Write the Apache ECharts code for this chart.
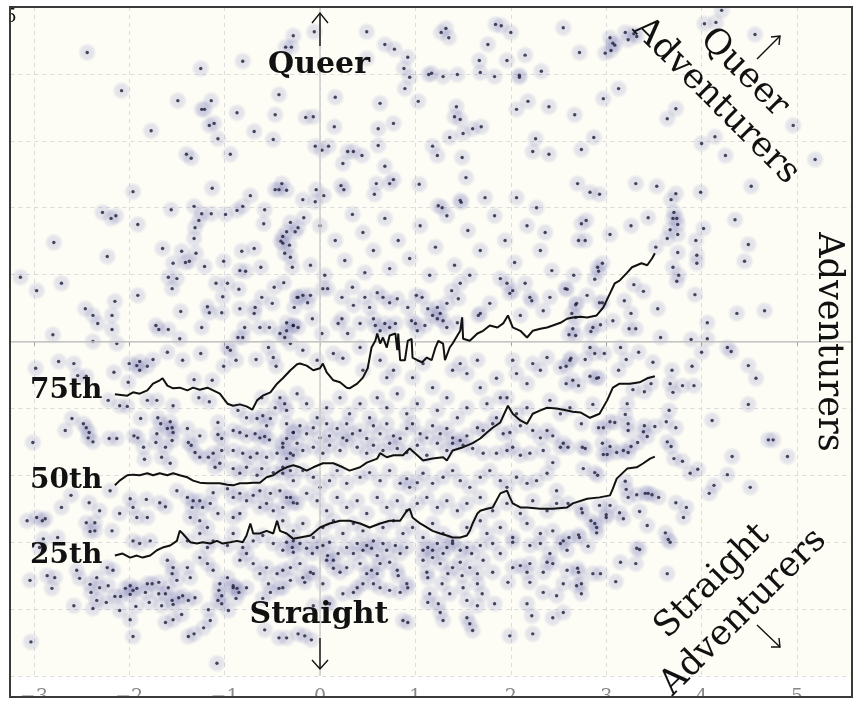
<!DOCTYPE html>
<html>
<head>
<meta charset="utf-8">
<script src="https://cdn.jsdelivr.net/npm/echarts@6/dist/echarts.min.js"></script>
<style>html,body{margin:0;padding:0;background:#fff}#chart{width:866px;height:711px}</style>
</head>
<body>
<div id="chart"></div>
<script>
// x tick labels shown under the frame
var xTicks = [-3, -2, -1, 0, 1, 2, 3, 4, 5];

// dots
var upperPts = [
[-2.44,4.32],[-2.08,3.75],[-1.49,3.60],[-1.14,3.60],[-1.24,3.47],[-1.21,3.47],[-0.87,3.42],[-0.47,3.39],[-1.25,4.08],[-0.81,4.19],[-0.28,4.57],[-0.36,4.40],[-0.30,4.40],[-0.43,3.69],[-1.77,3.15],[-1.16,3.23],[-1.11,3.26],[-1.07,3.03],[-0.69,3.14],[-0.49,3.02],[-1.40,2.80],[-1.35,2.74],[-0.94,2.80],[-1.96,2.24],[-1.13,2.29],[-0.73,2.18],[-0.47,2.27],[-0.43,2.27],[-0.40,2.36],[-0.35,2.26],
[-0.06,4.63],[0.49,4.63],[0.68,4.44],[0.78,4.37],[0.92,4.25],[0.88,4.08],[0.94,3.95],[0.89,3.78],[0.49,4.23],[0.16,3.65],[0.63,3.56],[1.03,3.59],[-0.15,3.35],[-0.07,3.36],[0.15,3.21],[0.61,3.18],[0.77,3.26],[-0.05,2.92],[0.02,2.86],[0.09,2.92],[0.29,2.84],[0.35,2.84],[0.44,2.78],[0.61,2.93],[0.24,2.66],[0.68,2.62],[0.22,2.33],[0.25,2.27],[0.59,2.36],[0.57,2.20],[0.73,2.36],[0.77,2.42],[1.04,2.35],[-0.04,2.27],[-0.18,2.12],[-0.05,2.09],[0.04,2.18],
[1.27,4.62],[1.32,4.68],[1.35,4.54],[1.84,4.74],[1.90,4.72],[2.00,4.62],[1.76,4.44],[1.67,4.20],[1.96,4.20],[2.15,4.28],[1.14,3.99],[1.17,4.01],[1.29,3.96],[1.44,3.99],[1.68,4.02],[1.83,3.96],[2.09,3.98],[2.09,3.95],[2.32,4.04],[2.55,4.69],[1.43,3.51],[1.41,3.36],[1.47,3.32],[2.06,3.47],[2.18,3.59],[2.40,3.51],[1.36,3.05],[1.50,3.11],[1.60,3.18],[1.69,3.21],[1.18,2.92],[1.23,2.78],[1.49,2.75],[2.26,3.03],[2.23,2.84],[2.40,2.80],[1.53,2.45],[1.73,2.15],[2.06,2.15],[1.47,2.11],[1.48,2.08],[1.24,2.03],[1.28,2.00],[2.27,2.00]
];
var rightPts = [
[2.72,4.32],[3.04,4.54],[3.07,4.46],[3.05,4.35],[2.99,4.31],[3.09,4.43],[3.20,4.62],[3.23,4.51],[3.29,4.60],[3.32,4.56],[4.03,4.75],[4.15,4.77],[4.21,4.95],[4.56,4.59],[3.13,3.78],[2.97,3.63],[2.67,3.39],[3.73,3.48],[3.64,3.33],[2.87,3.05],[2.74,2.87],[4.14,3.06],[4.00,2.96],[4.25,2.78],[4.96,3.23],[5.19,2.72],[2.70,2.36],[2.83,2.23],[2.93,2.20],[3.31,2.36],[3.53,2.32],[3.73,2.21],[3.68,2.12],[3.99,2.23],[4.52,2.32],[2.74,1.76],[2.79,1.81],[3.04,1.60],[3.26,1.73],[3.44,1.85],[3.71,1.93],[3.70,1.84],[3.74,1.84],[3.67,1.67],[3.75,1.75],[3.75,1.60],[3.64,1.54],[4.02,1.69],[3.94,1.51],[4.35,1.82],[4.49,1.45],[2.71,1.51],[2.78,1.51],
[3.95,1.29],[3.95,1.17],[4.45,1.20],[3.52,1.41],[3.75,1.33],[3.70,1.11],[3.76,0.99],[3.74,0.90],[3.29,0.85],[3.39,0.75],[3.93,0.70],[3.19,0.61],[3.26,0.42],[3.54,0.49],[4.37,0.42],[4.66,0.46],[3.24,0.19],[3.31,0.19],[3.07,0.31],[2.94,0.25],[2.93,0.58],[2.96,0.58],[2.96,1.17],[2.91,1.11],[2.92,1.05],[2.88,0.93],[2.66,0.99],[2.59,0.78],[2.80,0.69],[2.68,0.55],[2.64,0.42],[2.68,0.36],[2.65,0.19],[2.61,0.10],[2.68,0.09],[2.84,0.15],[2.86,0.21],[3.57,0.06],[3.89,0.03],[4.06,0.28],[4.06,0.04],[4.27,-0.09],[4.31,-0.15],[4.00,-0.16],[3.90,-0.37],[4.49,-0.36],[4.57,-0.55],[3.69,-0.43],[3.49,-0.31],[3.34,-0.16],[3.15,-0.09],[3.21,-0.27],[3.13,-0.43],[2.83,-0.09],[2.88,-0.18],[2.98,-0.18],[2.78,-0.27],[2.63,-0.25],[2.58,-0.37],[2.92,-0.54],[2.90,-0.55],[2.83,-0.52],[2.71,-0.66],[2.58,-0.63],[3.67,-0.63],[3.70,-0.76],[3.80,-0.66],[3.92,-0.66],[3.47,-0.63],[3.40,-0.75],[3.28,-0.72],[2.86,-0.94],[3.22,-0.93],[3.20,-1.09],[3.66,-1.03],[4.49,-0.94],[4.11,-1.18],[2.74,-1.23],[3.04,-1.20],[3.09,-1.21],[2.92,-1.29],[2.97,-1.29],[3.23,-1.23],[3.23,-1.33],[3.40,-1.26],[3.39,-1.35],[3.43,-1.42],[3.73,-1.29],[3.63,-1.20],[3.51,-1.27],[4.70,-1.47],[4.75,-1.47],[4.90,-1.72],[3.64,-1.50],[3.68,-1.57],[3.33,-1.51],[3.26,-1.57],[3.23,-1.66],[3.18,-1.63],[3.11,-1.66],[3.04,-1.57],[2.96,-1.52],[2.97,-1.69],[3.01,-1.69],[2.75,-1.58],[2.78,-1.60],[2.60,-1.58],[3.71,-1.75],[3.80,-1.79],[4.32,-1.72],[3.96,-1.91],[3.88,-1.97],[4.27,-1.99],[4.13,-2.15],[4.08,-2.27],[4.51,-2.18],[2.76,-1.90],[2.88,-1.96],[2.91,-2.00],[3.20,-2.09],[3.21,-2.21],[3.32,-2.29],[3.41,-2.27],[3.44,-2.27],[3.48,-2.29],[3.55,-2.33],
[3.23,-2.33],[3.73,-2.41],[3.84,-2.48],[3.81,-2.63],[3.35,-2.54],[3.43,-2.75],[3.62,-2.86],[3.65,-2.96],[3.67,-3.00],[3.64,-3.47],[3.14,-2.56],[3.18,-2.65],[2.93,-2.45],[3.04,-2.45],[3.00,-2.59],[3.00,-2.63],[2.84,-2.68],[2.88,-2.72],[2.90,-2.78],[2.90,-2.86],[2.74,-2.50],[2.75,-2.56],[2.60,-2.42],[2.61,-2.93],[2.71,-2.89],[2.72,-2.93],[2.81,-3.06],[3.32,-3.09],[3.35,-3.11],[3.15,-3.30],[3.31,-3.32],[2.59,-3.42],[2.70,-3.39],[2.71,-3.45],[2.86,-3.47],[2.94,-3.47],[3.10,-3.59],[2.69,-3.65],[2.74,-3.62],[2.74,-3.77],[2.55,-4.05]
];
var leftPts = [
[-2.28,1.93],[-2.19,1.84],[-2.14,1.88],[-1.91,1.75],[-1.56,1.97],[-1.32,2.02],[-1.24,1.91],[-1.14,1.91],[-0.99,1.90],[-0.87,1.96],[-0.81,2.02],[-0.58,1.97],[-0.59,1.76],[-1.27,1.81],[-1.31,1.70],[-1.32,1.54],[-1.65,1.39],[-1.45,1.35],[-1.30,1.32],[-1.41,1.18],[-1.37,1.20],[-1.54,1.17],[-1.21,1.12],[-1.01,1.20],[-0.82,1.35],[-0.69,1.39],[-0.84,1.06],[-0.78,1.05],[-0.62,1.11],[-0.31,1.78],[-0.35,1.64],[-0.26,1.64],[-0.23,1.70],[-0.39,1.57],[-0.41,1.50],[-0.39,1.47],[-0.32,1.44],[-0.37,1.32],[-0.31,1.26],[-0.29,1.11],[-0.38,0.88],[-0.48,0.81],[-2.79,1.48],[-2.23,1.27],[-3.14,0.96],[-2.97,0.76],[-2.71,0.87],[-2.15,0.60],[-1.91,0.69],[-2.46,0.49],[-1.59,0.96],[-1.50,0.94],[-1.55,0.79],[-1.09,0.87],[-0.97,0.87],[-0.85,0.78],[-1.02,0.67],[-1.18,0.52],[-0.84,0.49],[-0.68,0.51],[-0.61,0.66],[-0.50,0.57],[-0.24,0.66],[-0.27,0.51],
[-2.80,0.10],[-2.38,0.39],[-2.33,0.27],[-2.18,0.39],[-2.18,0.18],[-2.13,-0.03],[-2.38,0.00],[-1.72,0.24],[-1.69,0.18],[-1.59,0.18],[-1.47,0.04],[-1.46,0.45],[-1.24,0.21],[-1.16,0.43],[-1.03,0.43],[-0.79,0.21],[-0.69,0.42],[-0.63,0.21],[-0.53,0.21],[-0.86,0.06],[-0.81,0.06],[-0.97,-0.09],[-0.94,-0.13],[-0.28,0.24],[-0.35,0.16],[-0.37,0.06],[-0.42,0.12],[-0.54,-0.09],[-0.49,-0.24],[-2.98,-0.40],[-2.74,-0.30],[-2.58,-0.33],[-2.00,-0.33],[-1.92,-0.36],[-1.89,-0.30],[-1.81,-0.37],[-1.89,-0.43],[-1.75,-0.27],[-1.60,-0.16],[-1.44,-0.28],[-1.25,-0.18],[-1.01,-0.37],[-0.88,-0.28],[-0.67,-0.27],[-0.46,-0.37],[-2.16,-0.46],[-2.01,-0.61],[-1.32,-0.57],[-1.13,-0.58],[-2.54,-0.51],[-2.45,-0.52],[-2.22,-0.88],[-2.10,-0.96],[-2.02,-0.97],[-1.81,-0.88],[-1.71,-0.88],[-1.54,-0.96],[-1.27,-0.84],[-1.16,-0.90],[-2.60,-1.15],[-2.67,-1.33],[-2.48,-1.23],[-2.45,-1.29],[-2.42,-1.36],[-2.43,-1.44],[-2.38,-1.50],[-2.21,-1.45],[-2.13,-1.45],[-3.01,-1.51],[-1.95,-1.41],[-1.91,-1.44],[-1.88,-1.15],[-1.70,-1.14],[-1.67,-1.23],[-1.57,-1.20],[-1.55,-1.29],[-1.60,-1.30],[-1.54,-1.36],[-1.71,-1.38],[-1.72,-1.51],[-1.62,-1.58],[-1.55,-1.48],[-1.85,-1.58],[-1.84,-1.76],[-1.66,-1.73],[-1.39,-1.30],[-1.26,-1.41],[-1.38,-1.51],[-1.35,-1.55],[-1.07,-1.21],[-0.91,-1.33],[-0.84,-1.36],[-1.07,-1.39],[-1.03,-1.45],[-0.77,-1.41],[-0.68,-1.38],[-0.63,-1.44],[-0.58,-1.42],[-0.53,-1.47],[-0.39,-1.52],[-0.35,-1.45],[-0.66,-1.15],[-0.60,-1.11],[-0.56,-1.26],[-0.52,-1.15],[-0.28,-1.36],[-0.42,-0.84],[-0.47,-0.99],[-0.37,-0.93],[-0.61,-0.84],[-0.86,-1.03],[-0.77,-1.14],[-1.31,-1.66],[-1.26,-1.73],[-1.17,-1.73],[-1.12,-1.67],[-1.03,-1.63],[-0.91,-1.63],[-0.81,-1.67],[-0.73,-1.73],[-0.66,-1.67],[-0.56,-1.73],[-0.45,-1.67],[-0.35,-1.75],[-0.28,-1.70],[-1.57,-1.82],[-1.10,-1.88],[-1.05,-1.82],[-0.91,-1.90],[-0.84,-1.97],[-0.77,-1.88],[-0.66,-2.00],[-0.61,-1.90],[-0.49,-1.96],[-0.39,-1.88],[-0.31,-1.93],
[-2.20,-2.23],[-2.61,-2.30],[-2.42,-2.41],[-1.99,-2.35],[-1.96,-2.48],[-1.82,-2.36],[-1.68,-2.41],[-1.62,-2.47],[-2.71,-2.48],[-2.31,-2.53],[-3.07,-2.68],[-2.97,-2.63],[-2.91,-2.68],[-2.88,-2.65],[-2.75,-2.93],[-2.45,-2.71],[-2.36,-2.71],[-2.41,-2.84],[-2.36,-2.83],[-2.18,-2.83],[-1.92,-2.63],[-1.81,-2.63],[-2.10,-2.57],[-1.50,-2.23],[-1.39,-2.33],[-1.33,-2.38],[-1.34,-2.48],[-1.26,-2.38],[-1.23,-2.48],[-1.15,-2.42],[-1.12,-2.26],[-0.97,-2.20],[-0.91,-2.33],[-0.84,-2.27],[-0.77,-2.38],[-0.70,-2.30],[-1.07,-2.57],[-0.91,-2.63],[-0.84,-2.57],[-0.63,-2.23],[-0.52,-2.27],[-0.42,-2.23],[-0.31,-2.33],[-0.63,-2.48],[-0.56,-2.42],[-0.49,-2.53],[-0.39,-2.48],[-0.28,-2.41],[-1.26,-2.68],[-1.18,-2.78],[-1.36,-2.63],[-1.96,-2.98],[-1.89,-3.02],[-1.78,-2.98],[-2.94,-3.08],[-2.90,-2.95],[-3.04,-3.57],[-2.81,-3.69],[-2.86,-3.50],[-2.78,-3.53],[-2.55,-3.42],[-2.52,-3.54],[-2.34,-3.53],[-2.31,-3.68],[-2.23,-3.38],[-2.17,-3.42],[-1.99,-3.65],[-1.92,-3.69],[-1.81,-3.62],[-1.60,-3.27],[-1.54,-3.38],[-1.55,-3.47],[-1.50,-3.57],[-1.39,-3.38],[-1.36,-3.53],[-1.26,-3.23],[-1.18,-3.32],[-1.12,-3.42],[-1.05,-3.62],[-0.97,-3.53],[-0.91,-3.68],[-0.84,-3.27],[-0.77,-3.17],[-0.70,-3.32],[-0.63,-3.47],[-0.56,-3.38],[-0.45,-3.47],[-0.39,-3.68],[-0.31,-3.57],[-1.39,-2.98],[-1.26,-2.87],[-1.18,-3.08],[-1.12,-2.98],[-0.97,-3.05],[-0.91,-2.87],[-0.81,-3.08],[-0.70,-2.98],[-0.60,-2.90],[-0.49,-3.02],[-0.39,-3.12],[-0.28,-2.98],
[-2.58,-3.95],[-3.03,-4.49],[-2.41,-3.63],[-2.40,-3.75],[-2.22,-3.65],[-2.34,-3.87],[-2.24,-3.90],[-2.38,-3.99],[-2.15,-3.81],[-2.09,-3.81],[-2.04,-3.69],[-1.96,-3.72],[-1.99,-3.78],[-2.10,-4.02],[-1.93,-3.96],[-1.99,-4.16],[-1.96,-4.41],[-1.83,-3.75],[-1.76,-3.62],[-1.69,-3.60],[-1.69,-3.77],[-1.62,-3.77],[-1.59,-3.68],[-1.79,-3.90],[-1.66,-3.95],[-1.55,-3.87],[-1.54,-3.93],[-1.48,-3.83],[-1.44,-3.80],[-1.38,-3.87],[-1.31,-3.83],[-1.62,-4.20],[-1.54,-4.16],[-1.45,-4.08],[-1.38,-4.41],[-1.32,-4.37],[-1.22,-4.28],[-1.15,-4.17],[-1.17,-4.01],[-1.08,-4.81],[-1.06,-3.72],[-1.03,-3.80],[-1.07,-3.87],[-1.03,-3.92],[-0.96,-4.02],[-0.91,-3.65],[-0.87,-3.69],[-0.85,-3.75],[-0.77,-3.68],[-0.88,-3.84],[-0.54,-3.62],[-0.52,-3.75],[-0.43,-3.69],[-0.60,-3.84],[-0.58,-4.31],[-0.43,-4.43],[-0.23,-4.37]
];
var centerPts = [
[-0.35,-3.00],[-0.29,-3.08],[-0.28,-3.15],[-0.21,-3.02],[-0.14,-3.09],[-0.08,-3.17],[-0.03,-3.08],[0.03,-3.05],[0.10,-3.00],[0.08,-3.20],[0.14,-3.27],[0.19,-3.17],[0.28,-3.08],[0.35,-3.17],[0.39,-3.02],[0.45,-3.12],[0.49,-3.05],[0.54,-3.09],[0.60,-3.20],[0.66,-3.02],[0.70,-3.12],[0.79,-3.05],[0.84,-3.17],[0.91,-3.08],[1.08,-3.12],[1.13,-3.08],[1.18,-3.12],[1.23,-3.02],[1.29,-3.17],[1.33,-3.08],[1.39,-3.02],[1.47,-3.12],[1.54,-3.08],[1.59,-3.17],[1.68,-3.05],[1.81,-3.02],[1.89,-3.17],[2.02,-3.00],[2.20,-3.05],[2.31,-3.02],[2.41,-3.17],[2.52,-3.02],[2.59,-3.12],
[-0.39,-3.42],[-0.31,-3.38],[-0.21,-3.32],[-0.18,-3.53],[-0.16,-3.60],[-0.10,-3.45],[-0.07,-3.47],[0.03,-3.62],[0.07,-3.27],[0.14,-3.39],[0.21,-3.45],[0.28,-3.38],[0.42,-3.32],[0.49,-3.47],[0.54,-3.42],[0.60,-3.47],[0.63,-3.32],[0.73,-3.30],[0.81,-3.42],[0.82,-3.50],[0.91,-3.62],[0.92,-3.68],[0.84,-3.75],[0.73,-3.72],[0.63,-3.68],[0.56,-3.62],[0.45,-3.62],[0.39,-3.68],[0.35,-3.75],[0.24,-3.77],
[1.12,-3.45],[1.13,-3.53],[1.08,-3.27],[1.18,-3.23],[1.26,-3.32],[1.34,-3.47],[1.39,-3.38],[1.47,-3.30],[1.49,-3.50],[1.57,-3.38],[1.65,-3.47],[1.71,-3.27],[1.81,-3.45],[1.97,-3.60],[2.02,-3.38],[2.10,-3.35],[2.17,-3.45],[2.20,-3.32],[2.20,-3.60],[2.34,-3.45],[2.38,-3.30],[2.44,-3.32],[2.48,-3.80],[2.55,-3.62],
[1.28,-3.62],[1.36,-3.77],[1.50,-3.68],[1.65,-3.62],[1.70,-3.77],[1.83,-3.92],[1.54,-3.87],[1.65,-3.95],[1.15,-3.77],[1.13,-3.90],[1.24,-3.92],[1.26,-4.05],[1.29,-4.17],[1.54,-4.13],[1.57,-4.22],[1.60,-4.32],[1.99,-4.40],[2.23,-4.37],[2.17,-3.92],[2.22,-4.10],[2.34,-3.75],[2.44,-4.13],[0.87,-4.17],[0.92,-4.20],
[0.07,-3.90],[0.10,-3.92],[-0.07,-3.95],[-0.09,-4.46],[-0.16,-4.40],[-0.35,-4.43],
[-0.35,-1.23],[-0.28,-1.36],[-0.21,-1.26],[-0.14,-1.38],[-0.07,-1.29],[0.00,-1.44],[0.07,-1.23],[0.10,-1.41],[0.18,-1.30],[0.24,-1.44],[0.28,-1.23],[0.34,-1.38],[0.42,-1.33],[0.49,-1.45],[0.56,-1.26],[0.63,-1.38],[0.70,-1.23],[0.77,-1.41],[0.84,-1.45],[0.91,-1.30],[0.97,-1.23],[1.05,-1.38],[1.12,-1.44],[1.18,-1.26],[1.26,-1.38],[1.33,-1.30],[1.39,-1.44],[1.47,-1.48],[1.54,-1.41],[1.65,-1.29],[1.71,-1.33],[1.81,-1.23],[1.92,-1.38],[1.99,-1.36],[2.10,-1.26],[2.23,-1.33],[2.31,-1.44],[2.38,-1.33],[2.44,-1.41],[2.55,-1.52],
[-0.39,-1.58],[-0.31,-1.67],[-0.24,-1.52],[-0.18,-1.63],[-0.07,-1.58],[0.03,-1.67],[0.10,-1.55],[0.21,-1.63],[0.28,-1.48],[0.39,-1.58],[0.49,-1.67],[0.56,-1.55],[0.66,-1.63],[0.73,-1.52],[0.81,-1.60],[0.91,-1.66],[1.02,-1.55],[1.12,-1.70],[1.23,-1.52],[1.33,-1.63],[1.39,-1.52],[1.50,-1.55],[1.60,-1.60],[1.71,-1.67],[1.85,-1.67],[1.96,-1.63],[2.02,-1.58],[2.10,-1.70],[2.20,-1.67],[2.34,-1.63],[2.44,-1.81],[2.52,-1.58],
[-0.39,-1.97],[-0.28,-2.08],[-0.18,-1.93],[-0.07,-2.03],[0.00,-2.18],[0.10,-2.08],[0.18,-1.93],[0.28,-2.12],[0.42,-2.03],[0.52,-1.96],[0.63,-2.08],[0.73,-1.93],[0.84,-2.12],[0.91,-2.05],[0.94,-2.18],[1.02,-2.11],[1.08,-1.97],[1.18,-2.12],[1.29,-2.03],[1.39,-1.93],[1.47,-2.08],[1.57,-2.18],[1.68,-2.03],[1.78,-1.93],[1.89,-2.08],[1.96,-2.18],[2.06,-2.03],[2.17,-2.12],[2.27,-2.08],[2.38,-1.97],[2.48,-2.23],
[-0.35,-2.33],[-0.24,-2.42],[-0.14,-2.27],[-0.03,-2.38],[0.07,-2.53],[0.18,-2.33],[0.28,-2.48],[0.39,-2.38],[0.49,-2.57],[0.60,-2.33],[0.70,-2.48],[0.81,-2.38],[0.91,-2.53],[1.02,-2.42],[1.12,-2.33],[1.23,-2.48],[1.33,-2.38],[1.44,-2.53],[1.54,-2.42],[1.68,-2.33],[1.81,-2.53],[1.96,-2.42],[2.10,-2.57],[2.23,-2.38],[2.38,-2.53],[2.48,-2.42],
[-0.39,-2.68],[-0.28,-2.83],[-0.18,-2.72],[-0.07,-2.93],[0.03,-2.78],[0.14,-2.68],[0.24,-2.87],[0.35,-2.72],[0.45,-2.83],[0.56,-2.98],[0.66,-2.78],[0.77,-2.68],[0.87,-2.87],[0.97,-2.78],[1.08,-2.93],[1.18,-2.72],[1.29,-2.87],[1.39,-2.98],[1.54,-2.78],[1.68,-2.68],[1.75,-2.87],[1.89,-2.78],[2.02,-2.93],[2.17,-2.72],[2.31,-2.87],[2.44,-2.83],[2.55,-2.98],
[0.34,0.81],[0.60,0.73],[0.03,0.79],[0.08,0.79],[-0.23,0.66],[-0.18,0.69],[-0.10,0.69],[-0.13,0.58],[0.23,0.66],[0.35,0.54],[0.47,0.66],[0.52,0.51],[0.66,0.66],[0.73,0.58],[0.81,0.64],[0.92,0.51],[1.01,0.69],[1.07,0.66],[1.13,0.49],[1.23,0.51],[1.26,0.42],[1.23,0.34],[1.18,0.39],[1.33,0.57],[1.38,0.76],[1.45,0.64],[1.47,0.87],[1.78,0.57],[1.68,0.42],[1.66,0.39],[1.96,0.87],[1.99,0.72],[2.02,0.76],[2.15,0.87],[2.20,0.66],[2.22,0.61],[2.10,0.39],[2.34,0.46],[2.41,0.66],[2.57,0.79],[2.69,0.57],
[-0.35,0.28],[-0.28,0.24],[-0.23,0.21],[-0.08,0.34],[0.02,0.12],[0.19,0.27],[0.29,0.12],[0.23,0.34],[0.42,0.27],[0.56,0.34],[0.58,0.24],[0.63,0.16],[0.68,0.27],[0.73,0.21],[0.79,0.27],[0.96,0.31],[1.00,0.27],[1.02,0.16],[1.10,0.24],[1.29,0.31],[1.33,0.21],[1.44,0.28],
[-0.31,-0.03],[-0.18,-0.13],[-0.03,-0.28],[0.14,-0.18],[0.24,-0.25],[0.42,-0.09],[0.45,-0.43],[0.63,-0.28],[0.70,-0.54],[0.77,-0.43],[0.97,-0.54],[1.08,-0.33],[1.18,-0.69],[1.39,-0.43],[1.47,-0.33],[1.54,-0.48],[1.65,-0.28],[1.68,-0.69],[1.85,-0.55],[1.89,-0.84],[2.02,-0.28],[2.06,-0.48],[2.17,-0.63],[2.23,-0.33],[2.31,-0.43],[2.38,-0.24],[2.52,-0.39],[2.62,-0.28],[2.65,-0.58],
[-0.35,-1.03],[-0.24,-0.78],[-0.14,-0.93],[-0.03,-1.14],[0.07,-0.99],[0.21,-0.84],[0.31,-1.08],[0.42,-0.93],[0.52,-1.14],[0.60,-0.84],[0.70,-0.99],[0.81,-0.78],[0.91,-1.08],[1.02,-0.93],[1.23,-1.03],[1.33,-0.84],[1.44,-1.14],[1.54,-0.99],[1.75,-0.93],[1.85,-1.14],[1.96,-0.84],[2.06,-1.08],[2.17,-0.99],[2.41,-0.88],[2.52,-1.08],[2.62,-0.99],
[-0.17,1.85],[0.00,1.73],[0.16,1.51],[0.34,1.90],[0.45,1.63],[0.56,1.36],[0.68,1.84],[0.82,1.51],[0.94,1.24],[1.05,1.73],[1.21,1.41],[1.33,1.88],[1.41,1.14],[1.55,1.66],[1.68,1.36],[1.83,1.88],[1.94,1.51],[2.04,1.18],[2.17,1.73],[2.31,1.36],[2.43,1.06],[-0.10,1.14],[0.05,0.99],[0.26,1.21],[0.47,1.03],[0.73,1.09],[1.15,0.99],[1.57,0.99],[1.89,0.94],[2.36,1.63]
];

// percentile traces
var p75 = [[-2.15,-0.79],[-2.02,-0.81],[-1.96,-0.76],[-1.89,-0.78],[-1.81,-0.73],[-1.75,-0.63],[-1.68,-0.58],[-1.65,-0.55],[-1.60,-0.66],[-1.54,-0.70],[-1.47,-0.69],[-1.39,-0.73],[-1.33,-0.69],[-1.26,-0.72],[-1.18,-0.69],[-1.12,-0.73],[-1.05,-0.78],[-0.97,-0.93],[-0.91,-0.96],[-0.84,-0.94],[-0.77,-0.97],[-0.71,-1.02],[-0.66,-0.88],[-0.60,-0.81],[-0.52,-0.76],[-0.45,-0.63],[-0.39,-0.55],[-0.31,-0.43],[-0.24,-0.34],[-0.21,-0.33],[-0.14,-0.36],[-0.07,-0.43],[0.00,-0.40],[0.03,-0.33],[0.07,-0.46],[0.14,-0.58],[0.21,-0.61],[0.28,-0.69],[0.31,-0.70],[0.39,-0.63],[0.45,-0.54],[0.50,-0.40],[0.54,-0.09],[0.58,0.01],[0.60,0.12],[0.63,-0.03],[0.66,0.06],[0.70,-0.09],[0.73,0.09],[0.79,0.12],[0.81,-0.13],[0.82,0.12],[0.84,-0.28],[0.89,-0.28],[0.92,0.01],[0.96,0.04],[0.97,-0.24],[1.02,-0.28],[1.07,-0.31],[1.12,-0.24],[1.17,-0.28],[1.21,-0.09],[1.24,0.01],[1.29,-0.03],[1.31,-0.28],[1.36,-0.09],[1.39,-0.03],[1.47,0.16],[1.49,0.36],[1.50,0.04],[1.57,0.01],[1.65,0.12],[1.71,0.16],[1.78,0.24],[1.86,0.21],[1.92,0.27],[1.97,0.39],[2.02,0.21],[2.10,0.16],[2.17,0.06],[2.23,0.16],[2.31,0.19],[2.38,0.21],[2.44,0.24],[2.52,0.28],[2.59,0.34],[2.65,0.36],[2.73,0.37],[2.80,0.36],[2.90,0.39],[2.97,0.51],[3.04,0.72],[3.09,0.87],[3.14,0.91],[3.22,1.03],[3.27,1.11],[3.32,1.14],[3.37,1.17],[3.43,1.14],[3.48,1.24],[3.51,1.32]];
var p50 = [[-2.15,-2.15],[-2.10,-2.08],[-2.02,-2.00],[-1.96,-1.99],[-1.89,-2.00],[-1.81,-1.97],[-1.75,-2.00],[-1.68,-1.97],[-1.60,-2.00],[-1.54,-1.97],[-1.47,-2.00],[-1.39,-2.03],[-1.33,-2.08],[-1.26,-2.11],[-1.18,-2.12],[-1.12,-2.12],[-1.05,-2.12],[-0.97,-2.14],[-0.91,-2.15],[-0.84,-2.12],[-0.77,-2.12],[-0.70,-2.11],[-0.63,-2.11],[-0.56,-2.03],[-0.49,-2.00],[-0.42,-1.93],[-0.35,-1.88],[-0.28,-1.85],[-0.21,-1.88],[-0.14,-1.93],[-0.07,-1.88],[0.03,-1.82],[0.14,-1.82],[0.24,-1.88],[0.31,-1.93],[0.42,-1.88],[0.49,-1.81],[0.60,-1.75],[0.63,-1.67],[0.70,-1.73],[0.77,-1.70],[0.87,-1.70],[0.94,-1.60],[1.02,-1.70],[1.08,-1.78],[1.18,-1.75],[1.29,-1.73],[1.33,-1.78],[1.39,-1.63],[1.50,-1.58],[1.60,-1.52],[1.68,-1.45],[1.75,-1.36],[1.81,-1.29],[1.89,-1.21],[1.97,-0.96],[2.02,-1.08],[2.10,-1.18],[2.17,-1.23],[2.23,-1.08],[2.31,-1.03],[2.38,-0.99],[2.48,-1.00],[2.59,-1.03],[2.65,-1.05],[2.73,-1.06],[2.83,-1.14],[2.93,-1.08],[3.01,-0.88],[3.07,-0.69],[3.14,-0.63],[3.25,-0.63],[3.35,-0.61],[3.43,-0.55],[3.51,-0.52]];
var p25 = [[-2.15,-3.20],[-2.07,-3.17],[-1.99,-3.23],[-1.92,-3.20],[-1.86,-3.23],[-1.78,-3.20],[-1.71,-3.12],[-1.65,-3.08],[-1.57,-3.05],[-1.50,-2.98],[-1.47,-2.83],[-1.44,-2.87],[-1.36,-3.00],[-1.29,-3.02],[-1.23,-3.00],[-1.15,-3.02],[-1.08,-2.98],[-1.02,-3.02],[-0.94,-3.00],[-0.87,-2.98],[-0.81,-3.00],[-0.77,-2.90],[-0.73,-2.72],[-0.70,-2.87],[-0.63,-2.87],[-0.56,-2.83],[-0.49,-2.87],[-0.45,-2.68],[-0.42,-2.83],[-0.35,-2.87],[-0.28,-2.95],[-0.21,-2.93],[-0.10,-2.90],[0.00,-2.78],[0.10,-2.72],[0.21,-2.68],[0.31,-2.68],[0.42,-2.72],[0.52,-2.78],[0.63,-2.72],[0.73,-2.68],[0.84,-2.68],[0.91,-2.53],[0.94,-2.50],[0.97,-2.63],[1.05,-2.72],[1.12,-2.78],[1.18,-2.83],[1.26,-2.87],[1.33,-2.90],[1.39,-2.93],[1.47,-2.93],[1.54,-2.90],[1.57,-2.83],[1.60,-2.72],[1.65,-2.57],[1.68,-2.53],[1.75,-2.50],[1.81,-2.48],[1.89,-2.27],[1.96,-2.23],[1.99,-2.33],[2.02,-2.42],[2.10,-2.48],[2.17,-2.48],[2.31,-2.50],[2.44,-2.50],[2.59,-2.48],[2.65,-2.42],[2.80,-2.35],[2.93,-2.33],[3.04,-2.30],[3.07,-2.20],[3.11,-2.05],[3.22,-1.90],[3.32,-1.88],[3.39,-1.82],[3.46,-1.75],[3.51,-1.72]];

var allPts = upperPts.concat(rightPts, leftPts, centerPts);

var chart = echarts.init(document.getElementById('chart'));
var serif = '"DejaVu Serif", "Liberation Serif", serif';

var halo = {
    type: 'radial', x: 0.5, y: 0.5, r: 0.5,
    colorStops: [
        {offset: 0, color: 'rgba(105,105,175,0.26)'},
        {offset: 0.65, color: 'rgba(105,105,175,0.2)'},
        {offset: 1, color: 'rgba(105,105,175,0)'}
    ]
};

function pctLine(name, data) {
    return {
        name: name, type: 'line', data: data, showSymbol: false, symbol: 'none',
        lineStyle: {color: '#111', width: 2}, z: 5, silent: true, animation: false
    };
}

function label(text, x, y, opt) {
    opt = opt || {};
    return {
        type: 'text', x: x, y: y, rotation: opt.rotation || 0, z: 60, silent: true,
        style: {
            text: text, fill: '#111', fontFamily: serif,
            fontSize: opt.size || 30, fontWeight: opt.weight || 'normal',
            textAlign: opt.align || 'center', textVerticalAlign: 'middle',
            lineHeight: opt.lineHeight || 36
        }
    };
}

function seg(points, w) {
    return {type: 'polyline', z: 61, silent: true, shape: {points: points},
        style: {stroke: '#111', lineWidth: w || 1.4, fill: null}};
}

chart.setOption({
    animation: false,
    backgroundColor: '#fff',
    grid: {
        left: -61.6, top: 7, width: 954, height: 669,
        outerBoundsMode: 'none', containLabel: false,
        show: true, backgroundColor: '#fdfdf6', borderWidth: 0
    },
    xAxis: {
        type: 'value', min: -4, max: 6, interval: 1,
        axisLine: {show: true, lineStyle: {color: '#aaa', width: 1}},
        axisTick: {show: true, length: 4, lineStyle: {color: '#999'}},
        axisLabel: {
            margin: 12, fontSize: 19, color: '#888', fontFamily: serif,
            formatter: function (v) {
                if (xTicks.indexOf(v) < 0) return '';
                return v < 0 ? '\u2212' + (-v) : '' + v;
            }
        },
        splitLine: {show: true, lineStyle: {color: '#dcdcdc', type: [4, 4], width: 1}}
    },
    yAxis: {
        type: 'value', min: -5, max: 5, interval: 1,
        axisLine: {show: false}, axisTick: {show: false}, axisLabel: {show: false},
        splitLine: {show: true, lineStyle: {color: '#dcdcdc', type: [4, 4], width: 1}}
    },
    series: [
        {
            name: 'halo', type: 'scatter', data: allPts, symbolSize: 19,
            itemStyle: {color: halo}, z: 2, silent: true,
            markLine: {
                silent: true, symbol: 'none', label: {show: false},
                lineStyle: {color: '#cdcdcd', type: 'solid', width: 1.5},
                data: [{xAxis: 0}, {yAxis: 0}]
            }
        },
        {
            name: 'dots', type: 'scatter', data: allPts, symbolSize: 3.4,
            itemStyle: {color: '#1d1d38'}, z: 3, silent: true
        },
        pctLine('75th', p75),
        pctLine('50th', p50),
        pctLine('25th', p25)
    ],
    graphic: [
        label('Queer', 319, 65, {weight: 'bold', size: 30}),
        label('Straight', 319, 615, {weight: 'bold', size: 30}),
        label('75th', 30, 391, {weight: 'bold', size: 28, align: 'left'}),
        label('50th', 30, 481, {weight: 'bold', size: 28, align: 'left'}),
        label('25th', 30, 556, {weight: 'bold', size: 28, align: 'left'}),
        label('Adventurers', 828, 342, {size: 35, rotation: -Math.PI / 2}),
        label('Queer\nAdventurers', 730, 87, {size: 35, rotation: -Math.PI / 4, lineHeight: 40}),
        label('Straight\nAdventurers', 728, 597, {size: 35, rotation: Math.PI / 4, lineHeight: 44}),
        // vertical arrows on the zero line
        seg([[320, 46], [320, 13]]),
        seg([[312, 23], [320, 13], [328, 23]]),
        seg([[320, 638], [320, 669]]),
        seg([[312, 660], [320, 669], [328, 660]]),
        // diagonal arrows
        seg([[757, 59], [780, 36]]),
        seg([[771, 37], [780, 36], [779, 45]]),
        seg([[757, 625], [780, 647]]),
        seg([[771, 647], [780, 647], [779, 638]]),
        label('5', 11, 17, {size: 18}),
        // white margins and frame
        {type: 'rect', z: 100, silent: true, shape: {x: 0, y: 0, width: 10, height: 711}, style: {fill: '#fff'}},
        {type: 'rect', z: 100, silent: true, shape: {x: 852, y: 0, width: 14, height: 711}, style: {fill: '#fff'}},
        {type: 'rect', z: 100, silent: true, shape: {x: 0, y: 0, width: 866, height: 6}, style: {fill: '#fff'}},
        {type: 'rect', z: 100, silent: true, shape: {x: 0, y: 697, width: 866, height: 14}, style: {fill: '#fff'}},
        {type: 'rect', z: 101, silent: true, shape: {x: 10, y: 7, width: 842, height: 690},
            style: {fill: null, stroke: '#3a3a3a', lineWidth: 2}}
    ]
});

window.addEventListener('resize', function () {
    chart.resize();
});
</script>
</body>
</html>
